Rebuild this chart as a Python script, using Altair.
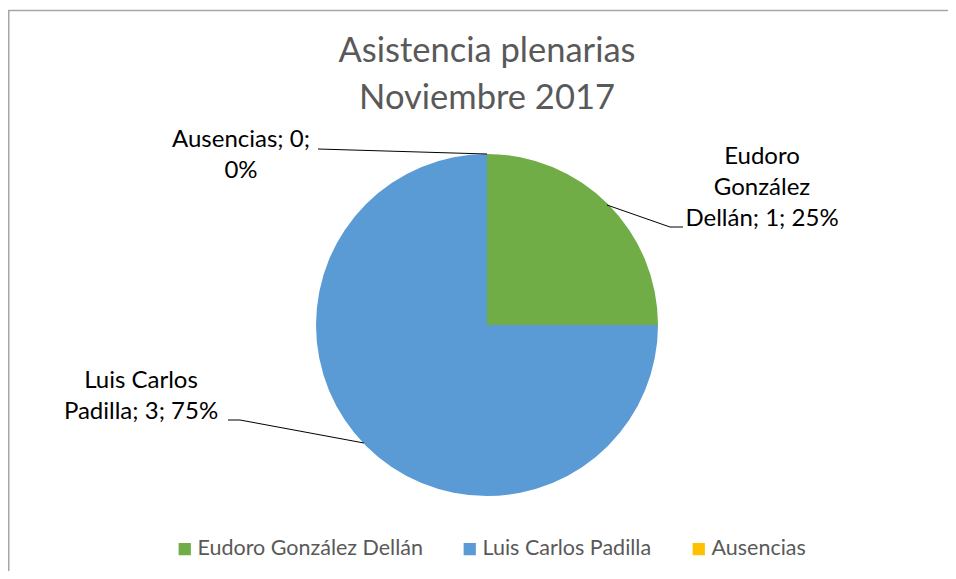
import textwrap
import altair as alt
import pandas as pd

# ---- data ----
names = ["Eudoro González Dellán", "Luis Carlos Padilla", "Ausencias"]
values = [1, 3, 0]
colors = ["#70AD47", "#5B9BD5", "#FFC000"]
title_lines = ["Asistencia plenarias", "Noviembre 2017"]

total = sum(values)
pcts = [round(v / total * 100) for v in values]
df = pd.DataFrame({"name": names, "value": values, "idx": list(range(len(names)))})

# ---- layout (plot coords; page minus 8px margin) ----
W, H = 940, 563
CX, CY, R = 479, 317, 171
FONT = "Lato"
wrap_widths = [14, 15, 14]
label_pos = [(754, 149), (133, 373), (233, 132)]  # first-line centers
leaders = [
    [(599, 197), (662, 219), (675, 219)],
    [(220, 412), (232, 412), (356, 435)],
    [(310, 141), (479, 146)],
]

one = pd.DataFrame({"a": [0]})

pie = alt.Chart(df).mark_arc(outerRadius=R).encode(
    theta=alt.Theta("value:Q", stack=True),
    order=alt.Order("idx:Q"),
    color=alt.Color(
        "name:N",
        scale=alt.Scale(domain=names, range=colors),
        legend=alt.Legend(
            title=None,
            orient="none",
            direction="horizontal",
            legendX=166,
            legendY=530,
            symbolType="square",
            symbolSize=150,
            symbolStrokeWidth=0,
            labelFont=FONT,
            labelFontSize=21.5,
            labelColor="#595959",
            labelOffset=2,
            labelLimit=0,
            columnPadding=36,
            padding=0,
        ),
    ),
    x=alt.value(CX),
    y=alt.value(CY),
)

layers = [pie]

# leader lines
for pts in leaders:
    for (x1, y1), (x2, y2) in zip(pts[:-1], pts[1:]):
        layers.append(
            alt.Chart(one).mark_rule(color="#000000", strokeWidth=1).encode(
                x=alt.value(x1), y=alt.value(y1), x2=alt.value(x2), y2=alt.value(y2)
            )
        )

# data labels
for n, v, p, w, (lx, ly) in zip(names, values, pcts, wrap_widths, label_pos):
    text = "\n".join(textwrap.wrap(f"{n}; {v}; {p}%", w))
    layers.append(
        alt.Chart(one).mark_text(
            text=text, lineBreak="\n", lineHeight=31, font=FONT, fontSize=24,
            color="#000000", align="center", baseline="middle",
        ).encode(x=alt.value(lx), y=alt.value(ly))
    )

# title
for i, t in enumerate(title_lines):
    layers.append(
        alt.Chart(one).mark_text(
            text=t, font=FONT, fontSize=34.5, color="#595959", align="center", baseline="middle",
        ).encode(x=alt.value(CX), y=alt.value(44 + i * 47))
    )

# chart border (top and left visible)
layers.append(
    alt.Chart(one).mark_rule(color="#A6A6A6", strokeWidth=1.5).encode(
        x=alt.value(0), x2=alt.value(W), y=alt.value(2.5), y2=alt.value(2.5)
    )
)
layers.append(
    alt.Chart(one).mark_rule(color="#A6A6A6", strokeWidth=1.5).encode(
        x=alt.value(0.75), x2=alt.value(0.75), y=alt.value(2.5), y2=alt.value(H)
    )
)

chart = alt.layer(*layers).properties(
    width=W, height=H, autosize=alt.AutoSizeParams(type="none"), padding=0
).configure_view(strokeWidth=0)

chart.save("out.html", embed_options={"renderer": "svg", "actions": False})
